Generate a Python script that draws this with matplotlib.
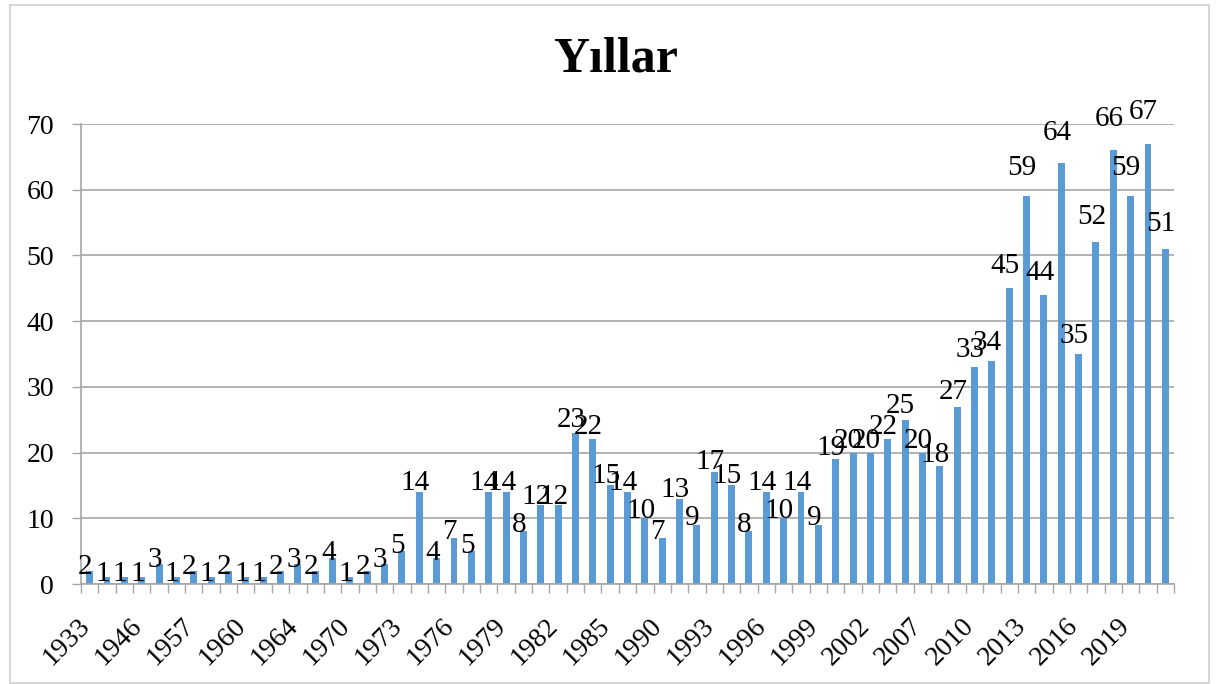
import matplotlib
matplotlib.use("Agg")
import matplotlib.pyplot as plt
import matplotlib.transforms as mtransforms
from matplotlib.patches import Rectangle
import numpy as np

# values per year, left to right
counts = [2, 1, 1, 1, 3, 1, 2, 1, 2, 1, 1, 2, 3, 2, 4, 1, 2, 3, 5, 14,
          4, 7, 5, 14, 14, 8, 12, 12, 23, 22, 15, 14, 10, 7, 13, 9, 17, 15, 8, 14,
          10, 14, 9, 19, 20, 20, 22, 25, 20, 18, 27, 33, 34, 45, 59, 44, 64, 35, 52, 66,
          59, 67, 51]
# only every third category has a visible year label
shown_years = ["1933", "1946", "1957", "1960", "1964", "1970", "1973", "1976",
               "1979", "1982", "1985", "1990", "1993", "1996", "1999", "2002",
               "2007", "2010", "2013", "2016", "2019"]
yticks = [0, 10, 20, 30, 40, 50, 60, 70]

plt.rcParams['font.family'] = ['Liberation Serif', 'DejaVu Serif']

fig = plt.figure(figsize=(12.16, 6.84), dpi=100)
ax = fig.add_axes([81 / 1216, 100 / 684, 1093 / 1216, 460 / 684])

x = np.arange(len(counts))
ax.bar(x, counts, width=0.4, color='#5B9BD5', zorder=3)

gray = '#A6A6A6'
ax.set_xlim(-0.5, len(counts) - 0.5)
ax.set_ylim(0, 70)
ax.set_yticks(yticks)
ax.yaxis.grid(True, color=gray, linewidth=1.2, zorder=0)
ax.tick_params(axis='y', length=6.5, width=1, color=gray, labelsize=20, pad=13)

# category boundary ticks, labels every 3rd category
ax.set_xticks(np.arange(-0.5, len(counts), 1.0), minor=True)
ax.set_xticks(x[::3])
ax.set_xticklabels(shown_years)
ax.tick_params(axis='x', which='minor', length=6.5, width=1, color=gray)
ax.tick_params(axis='x', which='major', length=0, labelsize=20, pad=21)
shift = mtransforms.ScaledTranslation(5 / 100, 0, fig.dpi_scale_trans)
for lab in ax.get_xticklabels():
    lab.set_rotation(45)
    lab.set_ha('right')
    lab.set_va('top')
    lab.set_transform(lab.get_transform() + shift)

for s in ['top', 'right']:
    ax.spines[s].set_visible(False)
for s in ['left', 'bottom']:
    ax.spines[s].set_color(gray)
    ax.spines[s].set_linewidth(1.2)
    ax.spines[s].set_zorder(4)

# data labels
for xi, v in zip(x, counts):
    ax.text(xi - 0.25, v * 1.065 + 0.5, str(v), ha='center', va='center',
            fontsize=21, color='black', zorder=5)

fig.text(616 / 1216, 1 - 60 / 684, 'Yıllar', ha='center', va='center',
         fontsize=36, fontweight='bold')

fig.patches.append(Rectangle((10 / 1216, 1 / 684), 1199 / 1216, 678 / 684,
                             transform=fig.transFigure, fill=False,
                             edgecolor='#D0D0D0', linewidth=1.2))

fig.savefig('out.png', dpi=100)
